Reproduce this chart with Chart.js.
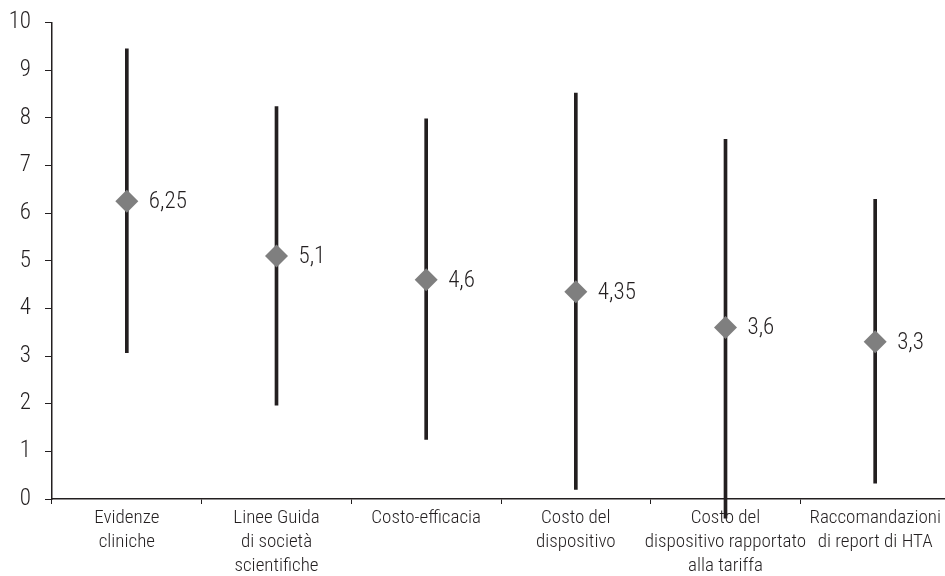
<!DOCTYPE html>
<html>
<head>
<meta charset="utf-8">
<script src="https://cdn.jsdelivr.net/npm/chart.js@4.4.1/dist/chart.umd.min.js"></script>
<style>
  html, body { margin: 0; padding: 0; background: #fff; overflow: hidden; }
  #wrap { width: 950px; height: 576px; }
</style>
</head>
<body>
<div id="wrap"><canvas id="chart1"></canvas></div>
<script>
// Data
const categories = [
    ['Evidenze', 'cliniche'],
    ['Linee Guida', 'di società', 'scientifiche'],
    ['Costo-efficacia'],
    ['Costo del', 'dispositivo'],
    ['Costo del', 'dispositivo rapportato', 'alla tariffa'],
    ['Raccomandazioni', 'di report di HTA']
];
const means = [6.25, 5.1, 4.6, 4.35, 3.6, 3.3];
const highs = [9.45, 8.24, 7.98, 8.52, 7.55, 6.29];
const lows = [3.07, 1.97, 1.25, 0.2, -0.4, 0.33];
const yTicks = [0, 1, 2, 3, 4, 5, 6, 7, 8, 9, 10];

const FONT = '"Roboto Condensed", "Liberation Sans Narrow", "DejaVu Sans Condensed", "Liberation Sans", sans-serif';
const INK = '#231f20';

// value labels next to the diamonds
const valueLabels = {
    id: 'valueLabels',
    afterDatasetsDraw(chart) {
        const meta = chart.getDatasetMeta(1);
        const ctx = chart.ctx;
        ctx.save();
        ctx.font = '300 23px ' + FONT;
        ctx.fillStyle = INK;
        ctx.textAlign = 'left';
        ctx.textBaseline = 'middle';
        meta.data.forEach((pt, i) => {
            ctx.fillText(String(means[i]).replace('.', ','), pt.x + 22, pt.y + 1);
        });
        ctx.restore();
    }
};

const createChart = (ctx) => {
    new Chart(ctx, {
        type: 'bar',
        data: {
            labels: categories,
            datasets: [{
                label: 'Range',
                data: lows.map((l, i) => [l, highs[i]]),
                backgroundColor: INK,
                barThickness: 3,
                borderSkipped: false,
                clip: false,
                order: 2
            }, {
                type: 'line',
                label: 'Media',
                data: means,
                showLine: false,
                pointStyle: 'rectRot',
                pointRadius: 11.5,
                pointHoverRadius: 11.5,
                pointBackgroundColor: '#7f7f7f',
                pointBorderWidth: 0,
                order: 1
            }]
        },
        options: {
            responsive: true,
            maintainAspectRatio: false,
            animation: false,
            layout: { autoPadding: false, padding: 0 },
            plugins: {
                legend: { display: false },
                tooltip: { enabled: false }
            },
            scales: {
                x: {
                    offset: true,
                    afterFit: s => { s.height = 77; },
                    grid: {
                        display: true,
                        offset: true,
                        drawOnChartArea: false,
                        drawTicks: true,
                        tickLength: 5,
                        color: INK
                    },
                    border: { color: INK, width: 1.5 },
                    ticks: {
                        color: INK,
                        font: { family: FONT, size: 19, weight: 300, lineHeight: 1.27 },
                        maxRotation: 0,
                        autoSkip: false,
                        padding: 2
                    }
                },
                y: {
                    min: 0,
                    max: 10,
                    afterFit: s => { s.width = 52; },
                    afterBuildTicks: s => { s.ticks = yTicks.map(v => ({ value: v })); },
                    grid: {
                        display: true,
                        drawOnChartArea: false,
                        tickLength: 7,
                        color: INK
                    },
                    border: { color: INK, width: 1.5 },
                    ticks: {
                        color: INK,
                        font: { family: FONT, size: 23, weight: 300, lineHeight: 0.75 },
                        padding: 14
                    }
                }
            }
        },
        plugins: [valueLabels]
    });
};

window.onload = () => {
    createChart(document.getElementById('chart1').getContext('2d'));
};
</script>
</body>
</html>
